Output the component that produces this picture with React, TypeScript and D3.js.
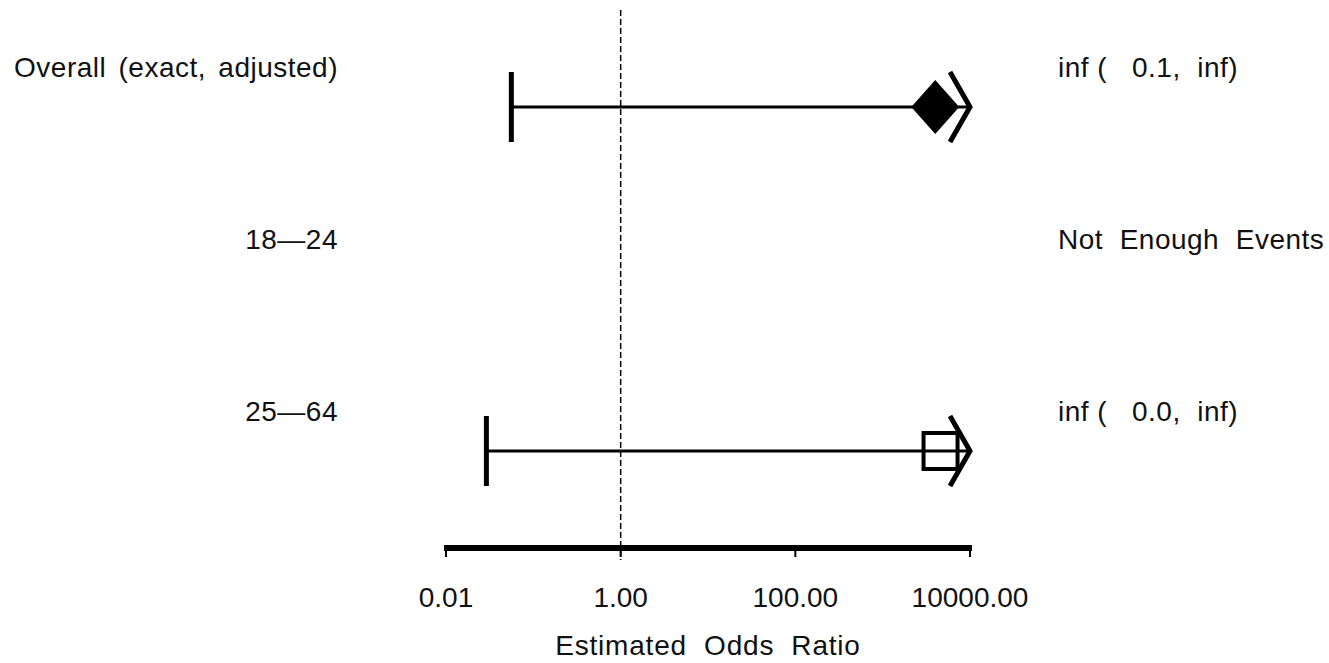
import React from "react";
import * as d3 from "d3";

const groups = ["Overall (exact, adjusted)", "18\u201424", "25\u201464"];
const estimates: (number | null)[] = [4000, null, 4600];
const lowerCI: (number | null)[] = [0.056, null, 0.029];
const upperCI: (number | null)[] = [Infinity, null, Infinity];
const markerTypes = ["diamond", "none", "square"];
const rightText = ["inf (   0.1,  inf)", "Not  Enough  Events", "inf (   0.0,  inf)"];
const tickValues = [0.01, 1, 100, 10000];
const tickLabels = ["0.01", "1.00", "100.00", "10000.00"];
const axisTitle = "Estimated  Odds  Ratio";

const W = 1329;
const H = 663;

export default function App() {
  const x = d3.scaleLog().domain([0.01, 10000]).range([446, 970]);
  const rowMark = d3.scalePoint<number>().domain([0, 1, 2]).range([107, 451]);
  const rowText = d3.scalePoint<number>().domain([0, 1, 2]).range([77, 421]);
  const axisY = 548;
  const font = "'Liberation Sans', Arial, sans-serif";
  const [xmin, xmax] = x.domain();
  const txtFill = "#111";

  return (
    <svg width={W} height={H} style={{ position: "absolute", left: 0, top: 0, background: "#fff" }}>
      <rect width={W} height={H} fill="#fff" />
      <line x1={x(1)} x2={x(1)} y1={10} y2={560} stroke="#000" strokeWidth={1.5} strokeDasharray="6,3" />
      {groups.map((g, i) => {
        const ym = rowMark(i)!;
        const yt = rowText(i)!;
        const lo = lowerCI[i];
        const hi = upperCI[i];
        const est = estimates[i];
        const elems: React.ReactNode[] = [];
        if (lo != null && hi != null && est != null) {
          const xl = x(Math.max(lo, xmin));
          const xh = x(Math.min(hi, xmax));
          elems.push(<line key="ci" x1={xl} x2={xh} y1={ym} y2={ym} stroke="#000" strokeWidth={3} />);
          elems.push(<line key="cap" x1={xl} x2={xl} y1={ym - 35} y2={ym + 35} stroke="#000" strokeWidth={5} />);
          if (hi > xmax) {
            elems.push(
              <polyline key="arr" points={`${xh - 20},${ym - 35} ${xh},${ym} ${xh - 20},${ym + 35}`} fill="none" stroke="#000" strokeWidth={5} />
            );
          } else {
            elems.push(<line key="cap2" x1={xh} x2={xh} y1={ym - 35} y2={ym + 35} stroke="#000" strokeWidth={5} />);
          }
          const xe = x(est);
          if (markerTypes[i] === "diamond") {
            elems.push(
              <polygon key="m" points={`${xe - 24},${ym} ${xe},${ym - 27} ${xe + 24},${ym} ${xe},${ym + 27}`} fill="#000" />
            );
          } else if (markerTypes[i] === "square") {
            elems.push(<rect key="m" x={xe - 17} y={ym - 18} width={34} height={36} fill="none" stroke="#000" strokeWidth={4} />);
          }
        }
        return (
          <g key={i}>
            {elems}
            <text x={338} y={yt} textAnchor="end" fontFamily={font} fontSize={28} fill={txtFill} letterSpacing={0.5} style={{ whiteSpace: "pre" }} wordSpacing={4}>
              {g}
            </text>
            <text x={1058} y={yt} textAnchor="start" fontFamily={font} fontSize={28} fill={txtFill} letterSpacing={0.5} style={{ whiteSpace: "pre" }}>
              {rightText[i]}
            </text>
          </g>
        );
      })}
      <line x1={x(xmin) - 2} x2={x(xmax) + 2} y1={axisY} y2={axisY} stroke="#000" strokeWidth={6} />
      {tickValues.map((t, i) => (
        <g key={t}>
          <line x1={x(t)} x2={x(t)} y1={axisY} y2={axisY + 9} stroke="#000" strokeWidth={2} />
          <text x={x(t)} y={607} textAnchor="middle" fontFamily={font} fontSize={28} fill={txtFill}>
            {tickLabels[i]}
          </text>
        </g>
      ))}
      <text x={(x(xmin) + x(xmax)) / 2} y={655} textAnchor="middle" fontFamily={font} fontSize={28} fill={txtFill} letterSpacing={0.8} style={{ whiteSpace: "pre" }}>
        {axisTitle}
      </text>
    </svg>
  );
}
